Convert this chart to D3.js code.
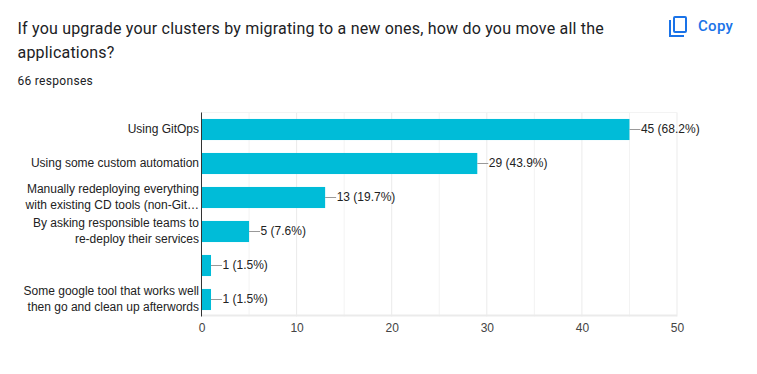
<!DOCTYPE html>
<html lang="en">
<head>
<meta charset="utf-8">
<title>Cluster migration survey</title>
<script src="https://d3js.org/d3.v7.min.js"></script>
<style>
  html, body { margin: 0; background: #fff; }
  svg { display: block; }
</style>
</head>
<body>
<script>
const ids = ["gitops", "custom", "manual", "teams", "blank", "google"];
const categoryLines = [
  ["Using GitOps"],
  ["Using some custom automation"],
  ["Manually redeploying everything", "with existing CD tools (non-Git\u2026"],
  ["By asking responsible teams to", "re-deploy their services"],
  [],
  ["Some google tool that works well", "then go and clean up afterwords"]
];
const counts = [45, 29, 13, 5, 1, 1];
const percents = ["68.2%", "43.9%", "19.7%", "7.6%", "1.5%", "1.5%"];
const majorTicks = [0, 10, 20, 30, 40, 50];
const minorTicks = [5, 15, 25, 35, 45];

const width = 757, height = 374;
const plotLeft = 201.5, plotRight = 677, plotTop = 112.5, plotBottom = 316.5;
const chartFont = "Arial, 'Liberation Sans', sans-serif";
const headFont = "Roboto, sans-serif";

const x = d3.scaleLinear().domain([0, 50]).range([plotLeft, plotRight]);
const y = d3.scaleBand().domain(ids).range([plotTop, plotBottom]).paddingInner(0.38).paddingOuter(0.19);

const svg = d3.select("body").append("svg")
  .attr("width", width)
  .attr("height", height);

// heading
const title = svg.append("text")
  .attr("font-family", headFont)
  .attr("font-size", 16)
  .attr("letter-spacing", 0.2)
  .attr("fill", "#202124");
title.append("tspan").attr("x", 17.5).attr("y", 34)
  .text("If you upgrade your clusters by migrating to a new ones, how do you move all the");
title.append("tspan").attr("x", 17.5).attr("y", 58).text("applications?");

svg.append("text")
  .attr("x", 17.5).attr("y", 85)
  .attr("font-family", headFont)
  .attr("font-size", 12)
  .attr("letter-spacing", 0.3)
  .attr("fill", "#202124")
  .text("66 responses");

// copy button
const copyIcon = svg.append("g")
  .attr("transform", "translate(669,16)")
  .attr("fill", "none")
  .attr("stroke", "#1a73e8")
  .attr("stroke-width", 2);
copyIcon.append("path").attr("d", "M1 4V20H15");
copyIcon.append("rect").attr("x", 5).attr("y", 1).attr("width", 12).attr("height", 15).attr("rx", 1);

svg.append("text")
  .attr("x", 698).attr("y", 31)
  .attr("font-family", headFont)
  .attr("font-size", 15)
  .attr("font-weight", 500)
  .attr("letter-spacing", 0.3)
  .attr("fill", "#1a73e8")
  .text("Copy");

// grid
svg.selectAll("line.minor").data(minorTicks).enter().append("line")
  .attr("class", "minor")
  .attr("x1", d => x(d)).attr("x2", d => x(d))
  .attr("y1", plotTop).attr("y2", plotBottom)
  .attr("stroke", "#f3f3f3");

svg.selectAll("line.major").data(majorTicks.slice(1)).enter().append("line")
  .attr("class", "major")
  .attr("x1", d => x(d)).attr("x2", d => x(d))
  .attr("y1", plotTop).attr("y2", plotBottom)
  .attr("stroke", "#ebebeb");

svg.append("line")
  .attr("x1", plotLeft).attr("x2", plotRight)
  .attr("y1", plotTop).attr("y2", plotTop)
  .attr("stroke", "#f3f3f3");
svg.append("line")
  .attr("x1", plotLeft).attr("x2", plotRight)
  .attr("y1", plotBottom - 1).attr("y2", plotBottom - 1)
  .attr("stroke", "#ebebeb")
  .attr("stroke-width", 2);

// bars
svg.selectAll("rect.bar").data(ids).enter().append("rect")
  .attr("class", "bar")
  .attr("x", x(0))
  .attr("y", d => y(d))
  .attr("width", (d, i) => x(counts[i]) - x(0))
  .attr("height", y.bandwidth())
  .attr("fill", "#00bcd8");

// leader lines and value labels
svg.selectAll("line.leader").data(ids).enter().append("line")
  .attr("class", "leader")
  .attr("x1", (d, i) => x(counts[i]))
  .attr("x2", (d, i) => x(counts[i]) + 11)
  .attr("y1", d => y(d) + y.bandwidth() / 2)
  .attr("y2", d => y(d) + y.bandwidth() / 2)
  .attr("stroke", "#999");

svg.selectAll("text.value").data(ids).enter().append("text")
  .attr("class", "value")
  .attr("x", (d, i) => x(counts[i]) + 11.5)
  .attr("y", d => y(d) + y.bandwidth() / 2 + 3)
  .attr("font-family", chartFont)
  .attr("font-size", 12)
  .attr("fill", "#222")
  .text((d, i) => counts[i] + " (" + percents[i] + ")");

// category labels
ids.forEach((id, i) => {
  const lines = categoryLines[i];
  const mid = y(id) + y.bandwidth() / 2;
  lines.forEach((line, j) => {
    svg.append("text")
      .attr("x", plotLeft - 2.5)
      .attr("y", mid + 3.5 + (j - (lines.length - 1) / 2) * 16)
      .attr("text-anchor", "end")
      .attr("font-family", chartFont)
      .attr("font-size", 12)
      .attr("fill", "#222")
      .text(line);
  });
});

// axis line on top of the bars
svg.append("line")
  .attr("x1", plotLeft).attr("x2", plotLeft)
  .attr("y1", plotTop).attr("y2", plotBottom)
  .attr("stroke", "#333");

// x axis
const axis = svg.append("g")
  .attr("transform", "translate(0," + plotBottom + ")")
  .call(d3.axisBottom(x).tickValues(majorTicks).tickSize(0).tickPadding(7));
axis.select(".domain").remove();
axis.selectAll("text")
  .attr("font-family", chartFont)
  .attr("font-size", 12)
  .attr("fill", "#444");
</script>
</body>
</html>
